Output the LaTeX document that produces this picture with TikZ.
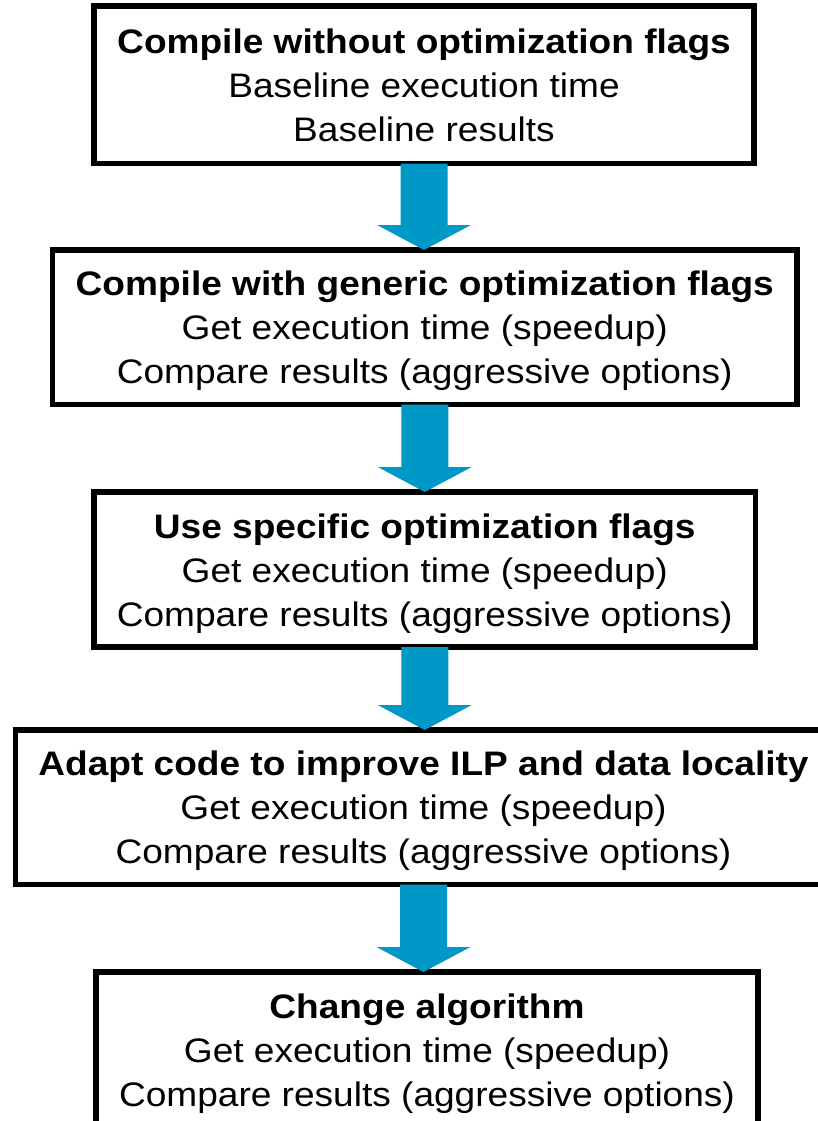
\documentclass[tikz,border=0pt]{standalone}
\usepackage{fontspec}
\setmainfont[FakeStretch=1.09]{Liberation Sans}
\usetikzlibrary{calc}
\definecolor{arrowblue}{RGB}{0,152,198}
\newcommand{\firststrut}{\rule{0pt}{35pt}}
\newcommand{\laststrut}{\rule[-10pt]{0pt}{10pt}}
\tikzset{
  stepbox/.style={draw=black, line width=5.5pt, fill=white, rectangle, outer sep=0pt,
    inner sep=0pt, align=center, font=\fontsize{34}{44}\selectfont},
  flowarrow/.style={fill=arrowblue}
}
\newcommand{\downarrowconn}[2]{%
  \path let \p1=(#1.south), \p2=(#2.north) in
    [flowarrow] (\x1-23.5pt,\y1) -- (\x1+23.5pt,\y1) -- (\x1+23.5pt,\y2+25pt)
    -- (\x1+47pt,\y2+25pt) -- (\x1,\y2) -- (\x1-47pt,\y2+25pt)
    -- (\x1-23.5pt,\y2+25pt) -- cycle;}
\begin{document}
\begin{tikzpicture}[x=1pt,y=-1pt]
\useasboundingbox[fill=white] (0,0) rectangle (818,1121);
\node[stepbox, minimum width=660pt, minimum height=157.5pt] (b1) at (424,84.75)
  {\firststrut\textbf{Compile without optimization flags}\\Baseline execution time\\Baseline results\laststrut};
\node[stepbox, minimum width=744.5pt, minimum height=154.5pt] (b2) at (424.75,327.25)
  {\firststrut\textbf{Compile with generic optimization flags}\\Get execution time (speedup)\\Compare results (aggressive options)\laststrut};
\node[stepbox, minimum width=661.5pt, minimum height=155pt] (b3) at (424.75,569.5)
  {\firststrut\textbf{Use specific optimization flags}\\Get execution time (speedup)\\Compare results (aggressive options)\laststrut};
\node[stepbox, minimum width=816pt, minimum height=154.5pt] (b4) at (423.5,807.25)
  {\firststrut\textbf{Adapt code to improve ILP and data locality}\\Get execution time (speedup)\\Compare results (aggressive options)\laststrut};
\node[stepbox, minimum width=662pt, minimum height=155pt] (b5) at (427,1049.5)
  {\firststrut\textbf{Change algorithm}\\Get execution time (speedup)\\Compare results (aggressive options)\laststrut};
\downarrowconn{b1}{b2}
\downarrowconn{b2}{b3}
\downarrowconn{b3}{b4}
\downarrowconn{b4}{b5}
\end{tikzpicture}
\end{document}
